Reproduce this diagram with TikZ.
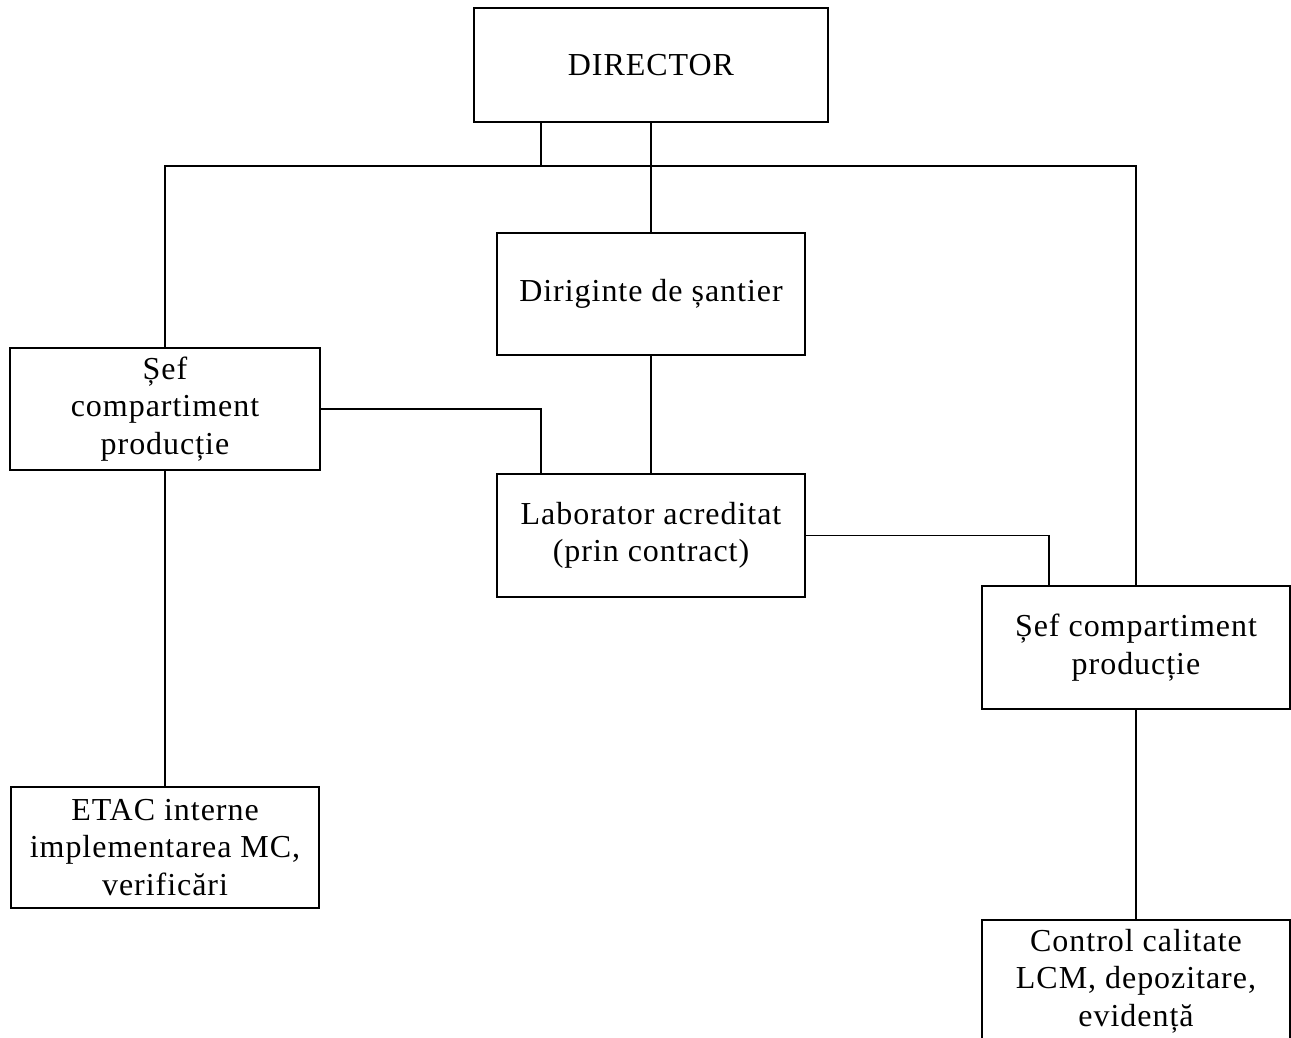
\documentclass[tikz,border=0pt]{standalone}
\usepackage{fontspec}
\setmainfont{Liberation Serif}[LetterSpace=3]
\begin{document}
\begin{tikzpicture}[x=1pt,y=-1pt,
  box/.style={draw=black, line width=1.4pt, align=center, inner sep=0pt,
    font=\fontsize{32}{37.5}\selectfont},
  conn/.style={draw=black, line width=1.3pt}]
\useasboundingbox (0,0) rectangle (1291,1038);
\clip (0,0) rectangle (1291,1038);
\node[box, minimum width=354pt, minimum height=114pt] (dir) at (651,65) {DIRECTOR};
\node[box, minimum width=308pt, minimum height=122pt] (dirig) at (651,294) {Diriginte de șantier};
\node[box, minimum width=310pt, minimum height=122pt] (sefL) at (165,409) {Șef\\compartiment\\producție};
\node[box, minimum width=308pt, minimum height=123pt] (lab) at (651,535.5) {Laborator acreditat\\(prin contract)};
\node[box, minimum width=308pt, minimum height=123pt] (sefR) at (1136,647.5) {Șef compartiment\\producție};
\node[box, minimum width=308pt, minimum height=121pt] (etac) at (165,847.5) {ETAC interne\\implementarea MC,\\verificări};
\node[box, minimum width=308pt, minimum height=122pt] (ctrl) at (1136,981) {Control calitate\\LCM, depozitare,\\evidență};
\coordinate (j) at (541,166);
\coordinate (k) at (1049,535.5);
\draw[conn] (dir.south -| j) -- (j);
\draw[conn] (sefL.north) -- (sefL.north |- j) -- (sefR.north |- j) -- (sefR.north);
\draw[conn] (dir.south) -- (dirig.north);
\draw[conn] (dirig.south) -- (lab.north);
\draw[conn] (sefL.east) -- (sefL.east -| j) -- (lab.north -| j);
\draw[conn] (lab.east) -- (k) -- (k |- sefR.north);
\draw[conn] (sefL.south) -- (etac.north);
\draw[conn] (sefR.south) -- (ctrl.north);
\end{tikzpicture}
\end{document}
